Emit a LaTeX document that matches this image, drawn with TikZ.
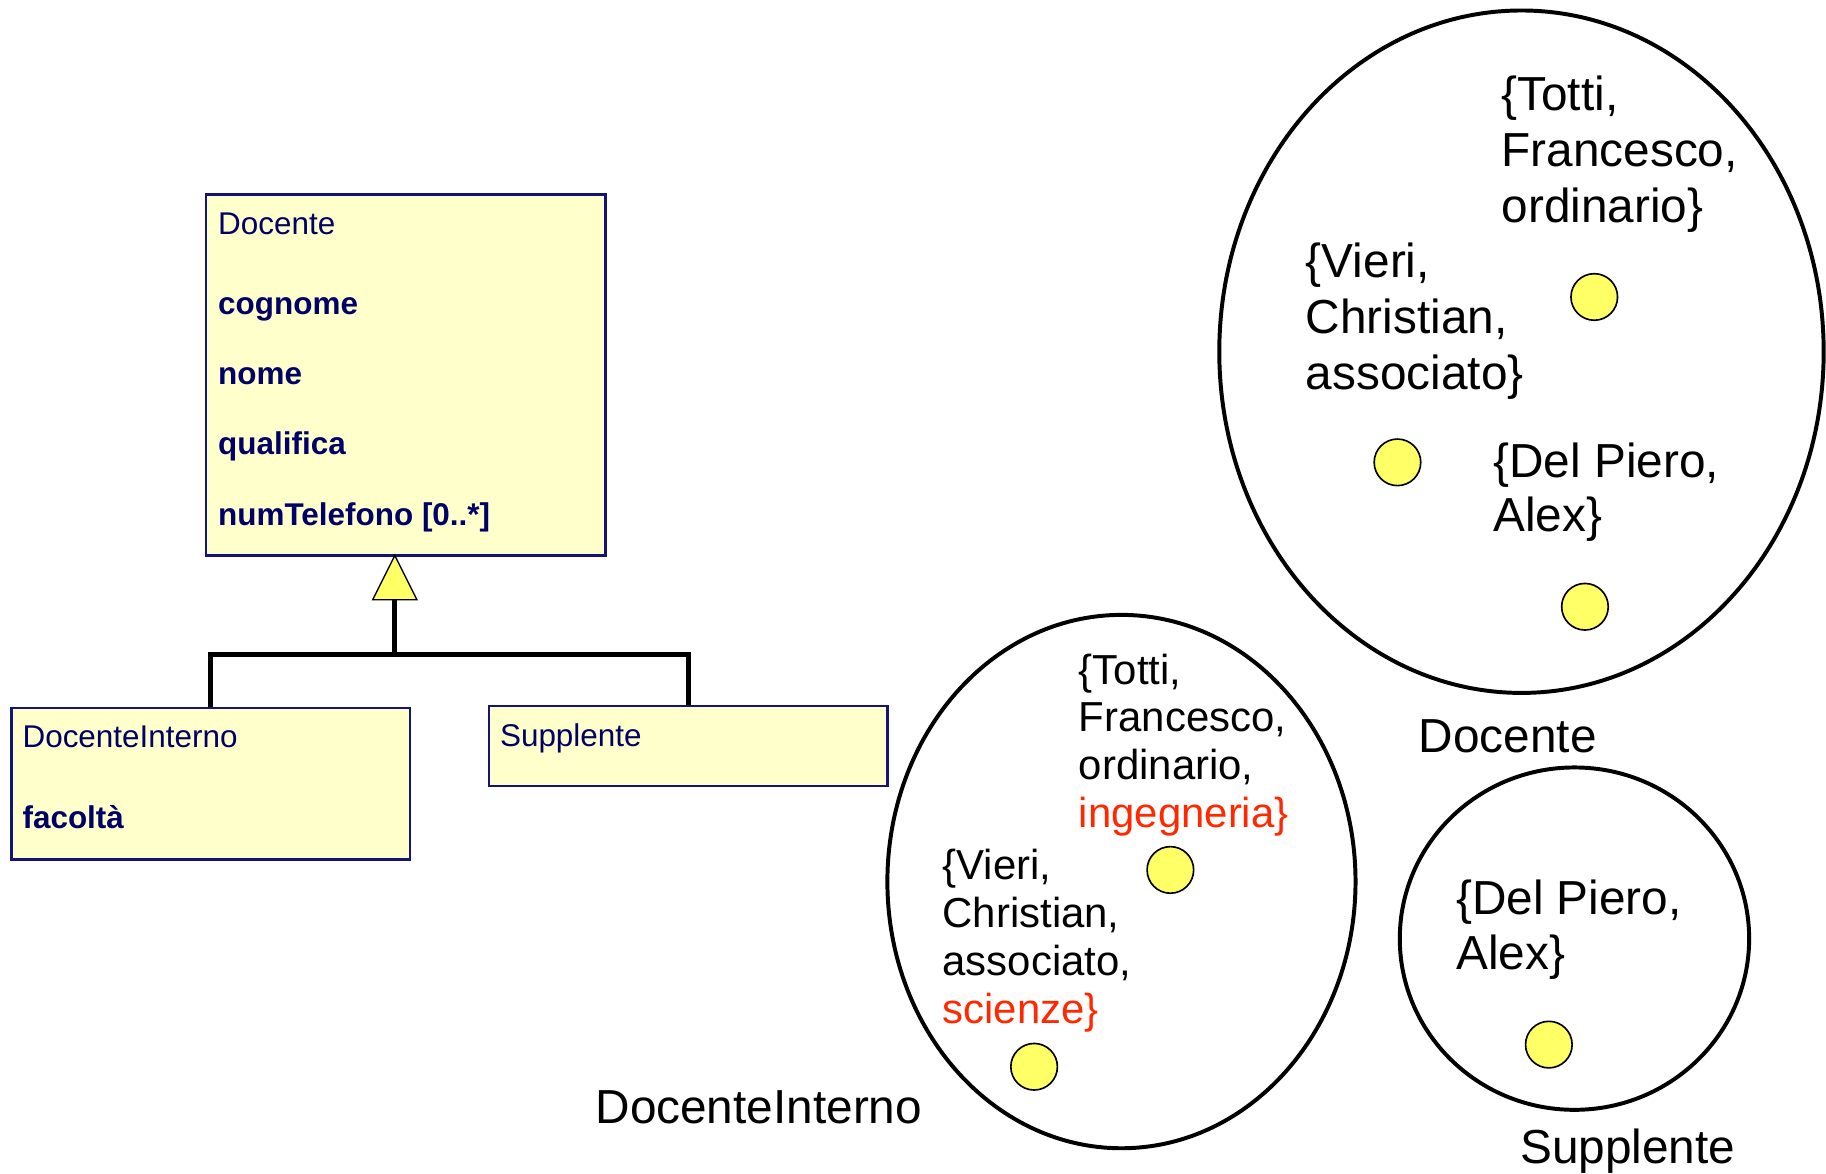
\documentclass[tikz,border=0pt]{standalone}
\usepackage{fontspec}
\setmainfont{Liberation Sans}
\usetikzlibrary{shapes.geometric}
\definecolor{umlfill}{RGB}{255,255,204}
\definecolor{umlline}{RGB}{20,20,120}
\definecolor{umltext}{RGB}{0,0,102}
\definecolor{dotyellow}{RGB}{255,255,102}
\definecolor{facred}{RGB}{255,40,0}
\begin{document}
\begin{tikzpicture}[x=0.5pt,y=-0.5pt,
  umlbox/.style={draw=umlline, line width=1pt, fill=umlfill, anchor=north west, inner sep=0pt},
  umltxt/.style={anchor=base west, inner sep=0pt, text=umltext, font=\fontsize{13.5pt}{16pt}\selectfont},
  umlattr/.style={anchor=base west, inner sep=0pt, text=umltext, font=\fontsize{13.5pt}{16pt}\selectfont\bfseries},
  genline/.style={line width=2pt},
  gentri/.style={draw=black, line width=0.6pt, fill=dotyellow},
  setshape/.style={ellipse, draw, line width=1.7pt, inner sep=0pt},
  obj/.style={circle, draw, line width=0.7pt, fill=dotyellow, minimum size=20pt, inner sep=0pt},
  tuple/.style={anchor=north west, inner sep=0pt, align=left, font=\fontsize{20.5pt}{24pt}\selectfont},
  smalltuple/.style={anchor=north west, inner sep=0pt, align=left, font=\fontsize{18pt}{20.5pt}\selectfont},
  setname/.style={anchor=base west, inner sep=0pt, font=\fontsize{20.5pt}{24pt}\selectfont}
]
\useasboundingbox (0,0) rectangle (1568,1008);

% ---------- class diagram ----------
\node[umlbox, minimum width=171.5pt, minimum height=155pt] (doc) at (176,166) {};
\node[umltxt]  (docname) at (187,201) {Docente};
\node[umlattr] (attr1) at (187,270) {cognome};
\node[umlattr] (attr2) at (187,330) {nome};
\node[umlattr] (attr3) at (187,390) {qualifica};
\node[umlattr] (attr4) at (187,451) {numTelefono [0..*]};

\node[umlbox, minimum width=171pt, minimum height=65pt] (di) at (9,607) {};
\node[umltxt]  (diname) at (19,642) {DocenteInterno};
\node[umlattr] (diattr) at (19,711) {facoltà};

\node[umlbox, minimum width=171pt, minimum height=34.5pt] (sup) at (419,605) {};
\node[umltxt] (supname) at (429,641) {Supplente};

% generalization
\coordinate (apex) at (339,477);
\coordinate (tribase) at (339,515);
\coordinate (junc) at (339,562);
\draw[genline] (di.north) |- (junc) -| (sup.north);
\draw[genline] (junc) -- (tribase);
\draw[gentri] (apex) -- (358,515) -- (320,515) -- cycle;

% ---------- extension of Docente ----------
\node[setshape, minimum width=259.5pt, minimum height=293pt] (setdoc) at (1306.5,302) {};
\node[tuple] (t1) at (1289,65) {\{Totti,\\Francesco,\\ordinario\}};
\node[tuple] (t2) at (1121,208) {\{Vieri,\\Christian,\\associato\}};
\node[tuple, font=\fontsize{20.5pt}{23pt}\selectfont] (t3) at (1282,380) {\{Del Piero,\\Alex\}};
\node[obj] (o1) at (1369,255) {};
\node[obj] (o2) at (1200,397) {};
\node[obj] (o3) at (1361,521) {};
\node[setname] (lbldoc) at (1218,646) {Docente};

% ---------- extension of DocenteInterno ----------
\node[setshape, minimum width=201pt, minimum height=229pt] (setdi) at (963,757) {};
\node[smalltuple] (t4) at (926,561) {\{Totti,\\Francesco,\\ordinario,\\\textcolor{facred}{ingegneria\}}};
\node[smalltuple] (t5) at (809,729) {\{Vieri,\\Christian,\\associato,\\\textcolor{facred}{scienze\}}};
\node[obj] (o4) at (1005,747) {};
\node[obj] (o5) at (888,916) {};
\node[setname] (lbldi) at (511,965) {DocenteInterno};

% ---------- extension of Supplente ----------
\node[setshape, minimum width=150pt, minimum height=147pt] (setsup) at (1352,806) {};
\node[tuple, font=\fontsize{20.5pt}{23.5pt}\selectfont] (t6) at (1250,755) {\{Del Piero,\\Alex\}};
\node[obj] (o6) at (1330,897) {};
\node[setname] (lblsup) at (1305,999) {Supplente};
\end{tikzpicture}
\end{document}
